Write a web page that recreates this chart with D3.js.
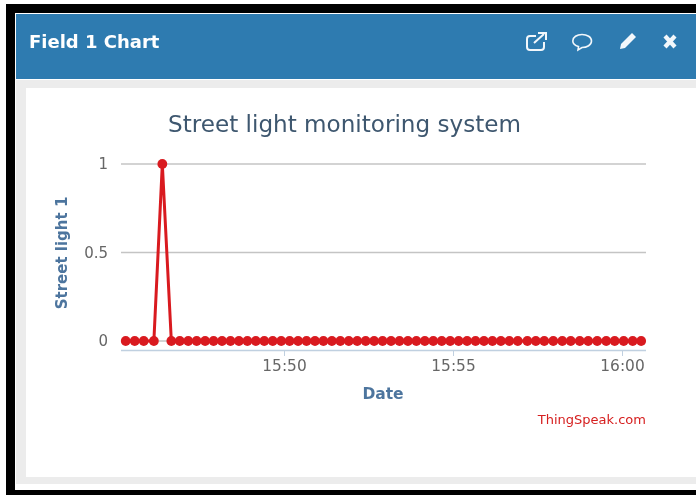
<!DOCTYPE html>
<html>
<head>
<meta charset="utf-8">
<script src="https://cdn.jsdelivr.net/npm/d3@7"></script>
<style>
  html, body { margin: 0; padding: 0; background: #fff; overflow: hidden; }
  svg { display: block; filter: blur(0.35px); }
  text { font-family: "DejaVu Sans", sans-serif; }
</style>
</head>
<body>
<svg width="696" height="495"></svg>
<script>
// Data
const times = [
  "15:45:19", "15:45:35", "15:45:51", "15:46:09", "15:46:24", "15:46:40",
  "15:46:55", "15:47:10", "15:47:25", "15:47:40", "15:47:55", "15:48:10",
  "15:48:25", "15:48:40", "15:48:55", "15:49:10", "15:49:25", "15:49:40",
  "15:49:55", "15:50:10", "15:50:25", "15:50:40", "15:50:55", "15:51:10",
  "15:51:25", "15:51:40", "15:51:55", "15:52:10", "15:52:25", "15:52:40",
  "15:52:55", "15:53:10", "15:53:25", "15:53:40", "15:53:55", "15:54:10",
  "15:54:25", "15:54:40", "15:54:55", "15:55:10", "15:55:25", "15:55:40",
  "15:55:55", "15:56:10", "15:56:25", "15:56:40", "15:56:55", "15:57:12",
  "15:57:27", "15:57:42", "15:57:58", "15:58:14", "15:58:29", "15:58:45",
  "15:59:00", "15:59:16", "15:59:32", "15:59:47", "16:00:03", "16:00:19",
  "16:00:34"
];
const values = [
  0, 0, 0, 0, 1, 0, 0, 0, 0, 0, 0, 0, 0, 0, 0, 0, 0, 0, 0, 0,
  0, 0, 0, 0, 0, 0, 0, 0, 0, 0, 0, 0, 0, 0, 0, 0, 0, 0, 0, 0,
  0, 0, 0, 0, 0, 0, 0, 0, 0, 0, 0, 0, 0, 0, 0, 0, 0, 0, 0, 0,
  0
];
const xTicks = ["15:50:00", "15:55:00", "16:00:00"];
const yTicks = [0, 0.5, 1];

const parseTime = d3.timeParse("%H:%M:%S");
const points = times.map((t, i) => ({ time: parseTime(t), value: values[i] }));

let svg = d3.select("svg");

// Window frame and panel
svg.append("rect").attr("x", 6).attr("y", 4).attr("width", 690).attr("height", 491).attr("fill", "#000");
svg.append("rect").attr("x", 15).attr("y", 13).attr("width", 681).attr("height", 477).attr("fill", "#fff");
svg.append("rect").attr("x", 16).attr("y", 80).attr("width", 680).attr("height", 404).attr("fill", "#ececec");
svg.append("rect").attr("x", 26).attr("y", 88).attr("width", 670).attr("height", 389).attr("fill", "#fff");
svg.append("rect").attr("x", 16).attr("y", 14).attr("width", 680).attr("height", 65).attr("fill", "#2e7bb0");

svg.append("text").text("Field 1 Chart")
  .attr("x", 29).attr("y", 48)
  .attr("font-size", 18).attr("font-weight", "bold").attr("fill", "#fff");

// Header icons
let icons = svg.append("g").attr("fill", "none").attr("stroke", "#f2f7fb").attr("stroke-width", 2);
icons.append("path").attr("d", "M536 36H530Q527 36 527 39V47Q527 50 530 50H541Q544 50 544 47V42");
icons.append("path").attr("d", "M534 43L544 34M538 33H546V40");
icons.append("path").attr("d", "M582 34.500C587 34.500 591.500 37 591.500 41C591.500 45 587 47.500 582 47.500L578 50L578.500 46.500C575 45.500 572.800 43.500 572.800 41C572.800 37 577 34.500 582 34.500Z").attr("stroke-width", 1.6);
icons.append("path").attr("d", "M620 49L621 44L632 33L636 37L625 48Z").attr("fill", "#f2f7fb").attr("stroke", "none");
icons.append("path").attr("d", "M665 36L675 47M675 36L665 47").attr("stroke-width", 4.2);

// Scales
let x = d3.scaleTime()
  .domain([parseTime("15:50:00"), parseTime("16:00:00")])
  .range([284, 622]);
let y = d3.scaleLinear().domain([0, 1]).range([341, 164]);

// Grid
svg.append("g").selectAll("line").data(yTicks).enter().append("line")
  .attr("x1", 121).attr("x2", 646)
  .attr("y1", d => y(d)).attr("y2", d => y(d))
  .attr("stroke", "#c4c4c4").attr("stroke-width", 1.3);

// Y labels
svg.append("g").selectAll("text").data(yTicks).enter().append("text")
  .attr("x", 108).attr("y", d => y(d) + 5)
  .attr("text-anchor", "end").attr("font-size", 15).attr("fill", "#666")
  .text(d => d);

// X axis
let xAxis = d3.axisBottom(x)
  .tickValues(xTicks.map(parseTime))
  .tickFormat(d3.timeFormat("%H:%M"))
  .tickSize(6).tickSizeOuter(0);
let xg = svg.append("g").attr("transform", "translate(0,350)").call(xAxis);
xg.select(".domain").attr("d", "M121,0.500H646").attr("stroke", "#c0d0e0").attr("stroke-width", 1.3);
xg.selectAll(".tick line").attr("stroke", "#c0d0e0");
xg.selectAll(".tick text").attr("font-size", 15.4).attr("fill", "#666").attr("y", 10).attr("dy", "0.71em")
  .attr("font-family", '"DejaVu Sans", sans-serif');

// Series
svg.append("path").datum(points)
  .attr("fill", "none").attr("stroke", "#d91a1f").attr("stroke-width", 3)
  .attr("d", d3.line().x(d => x(d.time)).y(d => y(d.value)));
svg.append("g").selectAll("circle").data(points).enter().append("circle")
  .attr("cx", d => x(d.time)).attr("cy", d => y(d.value))
  .attr("r", 4.9).attr("fill", "#d91a1f");

// Titles
svg.append("text").text("Street light monitoring system")
  .attr("x", 344.500).attr("y", 132).attr("text-anchor", "middle")
  .attr("font-size", 23.1).attr("fill", "#3e576f");
svg.append("text").text("Date")
  .attr("x", 383).attr("y", 399).attr("text-anchor", "middle")
  .attr("font-size", 15.500).attr("font-weight", "bold").attr("fill", "#4d759e");
svg.append("text").text("Street light 1")
  .attr("transform", "translate(67,253) rotate(-90)").attr("text-anchor", "middle")
  .attr("font-size", 15).attr("font-weight", "bold").attr("fill", "#4d759e");
svg.append("text").text("ThingSpeak.com")
  .attr("x", 646).attr("y", 424).attr("text-anchor", "end")
  .attr("font-size", 13).attr("fill", "#d62020");
</script>
</body>
</html>
